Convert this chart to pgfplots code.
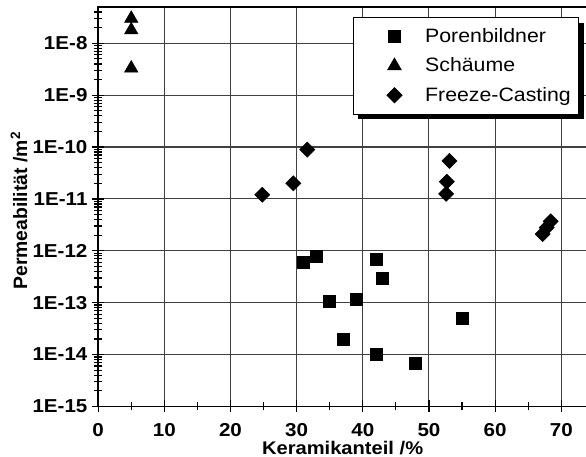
\documentclass[border=0pt]{standalone}
\usepackage{fontspec}
\setmainfont{Liberation Sans}[FakeStretch=1.1]
\newfontfamily\plainsans{Liberation Sans}
\usepackage{pgfplots}
\pgfplotsset{compat=1.18}
\usetikzlibrary{shadows}

\begin{document}
\begin{tikzpicture}
\begin{semilogyaxis}[
  name=ax,
  scale only axis,
  width=366pt, height=299pt,
  xmin=0, xmax=73.9,
  ymin=1e-15, ymax=5e-8,
  xtick={0,10,20,30,40,50,60,70},
  xticklabels={0,10,20,30,40,50,60,70},
  minor xtick={5,15,25,35,45,55,65},
  ytick={1e-15,1e-14,1e-13,1e-12,1e-11,1e-10,1e-9,1e-8},
  yticklabels={1E-15,1E-14,1E-13,1E-12,1E-11,1E-10,1E-9,1E-8},
  minor ytick={2e-15,3e-15,4e-15,5e-15,6e-15,7e-15,8e-15,9e-15,
    2e-14,3e-14,4e-14,5e-14,6e-14,7e-14,8e-14,9e-14,
    2e-13,3e-13,4e-13,5e-13,6e-13,7e-13,8e-13,9e-13,
    2e-12,3e-12,4e-12,5e-12,6e-12,7e-12,8e-12,9e-12,
    2e-11,3e-11,4e-11,5e-11,6e-11,7e-11,8e-11,9e-11,
    2e-10,3e-10,4e-10,5e-10,6e-10,7e-10,8e-10,9e-10,
    2e-9,3e-9,4e-9,5e-9,6e-9,7e-9,8e-9,9e-9,
    2e-8,3e-8,4e-8},
  xtick pos=bottom, ytick pos=left,
  tick align=center,
  major tick length=9pt, minor tick length=6pt,
  every tick/.style={black, line width=0.9pt},
  grid=major,
  major grid style={black!75, line width=0.8pt},
  axis line style={line width=1.1pt},
  tick label style={font=\bfseries\fontsize{14}{16}\selectfont},
  xticklabel style={yshift=-5pt},
  xlabel={Keramikanteil /\%},
  ylabel={Permeabilität /m\textsuperscript{2}},
  xlabel style={font=\bfseries\fontsize{13.7}{15}\selectfont, yshift=4pt},
  ylabel style={font=\plainsans\bfseries\fontsize{14.5}{16}\selectfont,
    at={(ticklabel cs:0.49)}, yshift=-3pt},
  legend cell align=left,
  legend image code/.code={%
    \pgfpathmoveto{\pgfpointorigin}%
    \pgfpathlineto{\pgfpoint{47pt}{0pt}}%
    \pgfusepath{discard}%
    \draw[#1] plot coordinates {(27pt,0pt)};},
  legend style={at={(0.984,0.974)}, anchor=north east,
    draw=black, line width=0.6pt, fill=white,
    drop shadow={shadow xshift=4pt, shadow yshift=-4pt, fill=black, opacity=1},
    font=\fontsize{14.5}{16}\selectfont,
    inner xsep=4pt, inner ysep=6pt, row sep=6pt, column sep=1pt},
]

\addplot[only marks, mark=square*, mark size=4.5pt, black] coordinates {
  (31, 6.0e-13)
  (33, 7.8e-13)
  (42, 6.9e-13)
  (43, 2.9e-13)
  (35, 1.05e-13)
  (39, 1.15e-13)
  (55, 5.0e-14)
  (37, 2.0e-14)
  (42, 1.02e-14)
  (48, 6.8e-15)
};

\addplot[only marks, mark=triangle*, mark size=5.8pt, black] coordinates {
  (5, 3.0e-8)
  (5, 1.8e-8)
  (5, 3.3e-9)
};

\addplot[only marks, mark=square*, mark size=4pt, black, mark options={rotate=45}] coordinates {
  (24.8, 1.2e-11)
  (29.5, 2.0e-11)
  (31.6, 8.9e-11)
  (52.6, 1.25e-11)
  (52.7, 2.15e-11)
  (53.1, 5.4e-11)
  (67.2, 2.1e-12)
  (67.8, 2.8e-12)
  (68.4, 3.7e-12)
};

\legend{Porenbildner, Schäume, Freeze-Casting}
\end{semilogyaxis}
\pgfresetboundingbox
\path ([xshift=-73.5pt,yshift=-37.5pt]ax.south west) rectangle ([xshift=-0.8pt,yshift=5.25pt]ax.north east);
\end{tikzpicture}
\end{document}
